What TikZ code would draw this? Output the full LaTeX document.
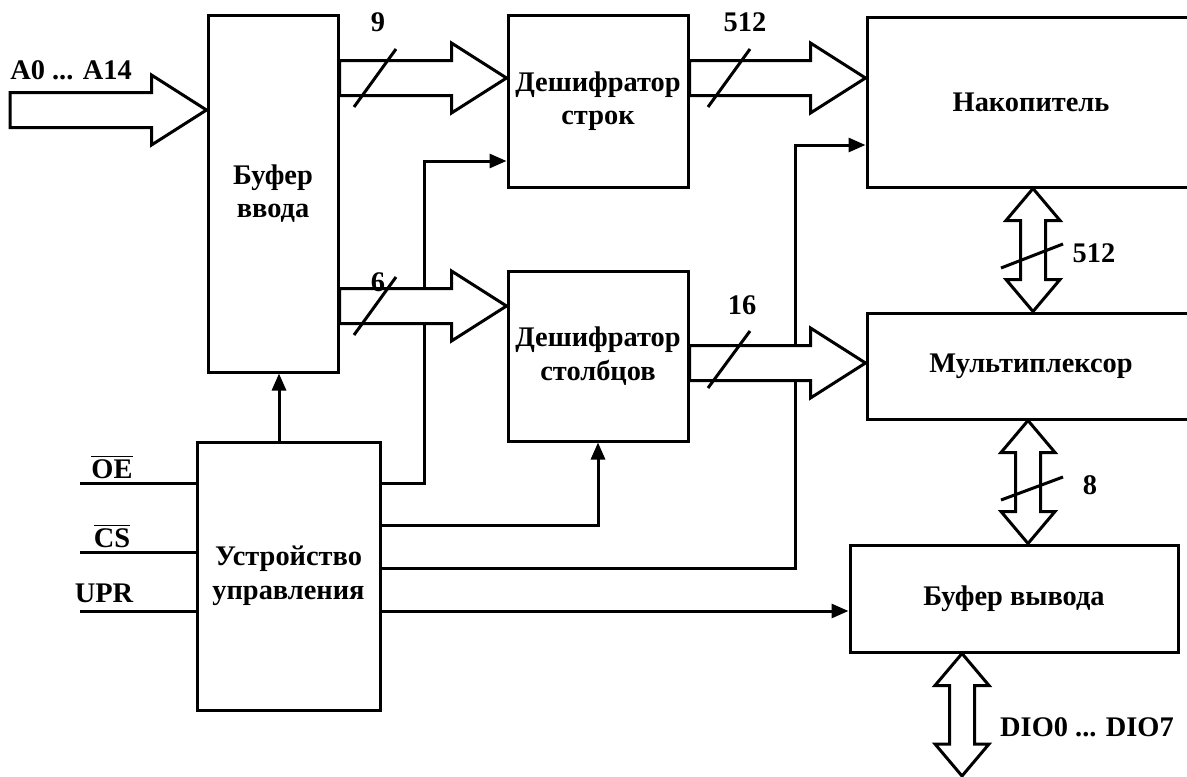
\documentclass[tikz,border=0pt]{standalone}
\usepackage{fontspec}
\setmainfont{Liberation Serif}
\usetikzlibrary{arrows.meta,calc}

\begin{document}
\begin{tikzpicture}[x=0.5pt,y=-0.5pt,line width=1.5pt,
  >={Triangle[length=8.5pt,width=7pt]},
  font=\fontsize{14.2}{16.8}\selectfont\bfseries,
  blok/.style={draw,align=center,inner sep=0pt},
  hbus/.style={fill=white,to path={let \p1=(\tikztostart),\p2=(\tikztotarget) in
    (\x1,\y1+8.75pt) -- (\x2-27.5pt,\y1+8.75pt) -- (\x2-27.5pt,\y1+17.5pt) -- (\x2,\y1)
    -- (\x2-27.5pt,\y1-17.5pt) -- (\x2-27.5pt,\y1-8.75pt) -- (\x1,\y1-8.75pt) -- cycle}},
  vbus/.style={fill=white,to path={let \p1=(\tikztostart),\p2=(\tikztotarget) in
    (\x1,\y1) -- (\x1+13.5pt,\y1-16pt) -- (\x1+6.25pt,\y1-16pt) -- (\x1+6.25pt,\y2+16pt)
    -- (\x1+13.5pt,\y2+16pt) -- (\x1,\y2) -- (\x1-13.5pt,\y2+16pt) -- (\x1-6.25pt,\y2+16pt)
    -- (\x1-6.25pt,\y1-16pt) -- (\x1-13.5pt,\y1-16pt) -- cycle}}]
\clip (0,0) rectangle (1187,776);

% блоки
\node[blok,minimum width=65pt,minimum height=178.5pt] (BI) at (273,193.5) {Буфер\\ввода};
\node[blok,minimum width=90pt,minimum height=86pt] (DR) at (598,101) {Дешифратор\\строк};
\node[blok,minimum width=90pt,minimum height=85pt] (DC) at (598,356) {Дешифратор\\столбцов};
\node[blok,minimum width=164pt,minimum height=85pt] (NK) at (1031,102) {Накопитель};
\node[blok,minimum width=164pt,minimum height=53pt] (MX) at (1031,366) {Мультиплексор};
\node[blok,minimum width=164pt,minimum height=53.5pt] (BO) at (1014,598.5) {Буфер вывода};
\node[blok,minimum width=91.5pt,minimum height=134pt] (CU) at (288.5,576) {Устройство\\управления};

% внешние выводы
\coordinate (ain) at (10,110);
\coordinate (oe) at (80,483);
\coordinate (cs) at (80,552);
\coordinate (upr) at (80,611);
\coordinate (dio) at (962,776);
\coordinate (j1) at (424,161);
\coordinate (j2) at (795,145);
\coordinate (v1) at (1033,0);
\coordinate (v2) at (1028,0);

% управляющие линии
\draw (oe) -- (CU.west |- oe);
\draw (cs) -- (CU.west |- cs);
\draw (upr) -- (CU.west |- upr);
\draw[->] (CU.north -| 279,0) -- (BI.south -| 279,0);
\draw[->] (CU.east |- oe) -| (j1) -- (DR.west |- j1);
\draw[->] (CU.east |- 0,525) -| (DC.south);
\draw[->] (CU.east |- 0,568) -| (j2) -- (NK.west |- j2);
\draw[->] (CU.east |- upr) -- (BO.west |- upr);

% шины
\draw[hbus] (ain) to (BI.west |- ain);
\draw[hbus] (BI.east |- 0,78) to (DR.west |- 0,78);
\draw[hbus] (DR.east |- 0,78) to (NK.west |- 0,78);
\draw[hbus] (BI.east |- 0,306) to (DC.west |- 0,306);
\draw[hbus] (DC.east |- 0,363) to (MX.west |- 0,363);
\draw[vbus] (v1 |- NK.south) to (v1 |- MX.north);
\draw[vbus] (v2 |- MX.south) to (v2 |- BO.north);
\draw[vbus] (BO.south -| dio) to (dio);

% разрядность
\draw (354,107) -- (396,49);
\draw (708,107) -- (750,49);
\draw (354,335) -- (396,277);
\draw (708,388) -- (750,331);
\draw (1001,268) -- (1063,244);
\draw (1001,500) -- (1063,477);

% надписи
\node (lA) at (71,70) {A0 ... A14};
\node (l9) at (378,22) {9};
\node (l512a) at (745,22) {512};
\node (l6) at (378,282) {6};
\node (l16) at (742,305) {16};
\node (l512b) at (1094,253) {512};
\node (l8) at (1090,485) {8};
\node (lD) at (1087,727) {DIO0 ... DIO7};
\node (lOE) at (112,467) {$\overline{\mbox{OE}}$};
\node (lCS) at (112,536) {$\overline{\mbox{CS}}$};
\node (lU) at (104,593) {UPR};
\end{tikzpicture}
\end{document}
